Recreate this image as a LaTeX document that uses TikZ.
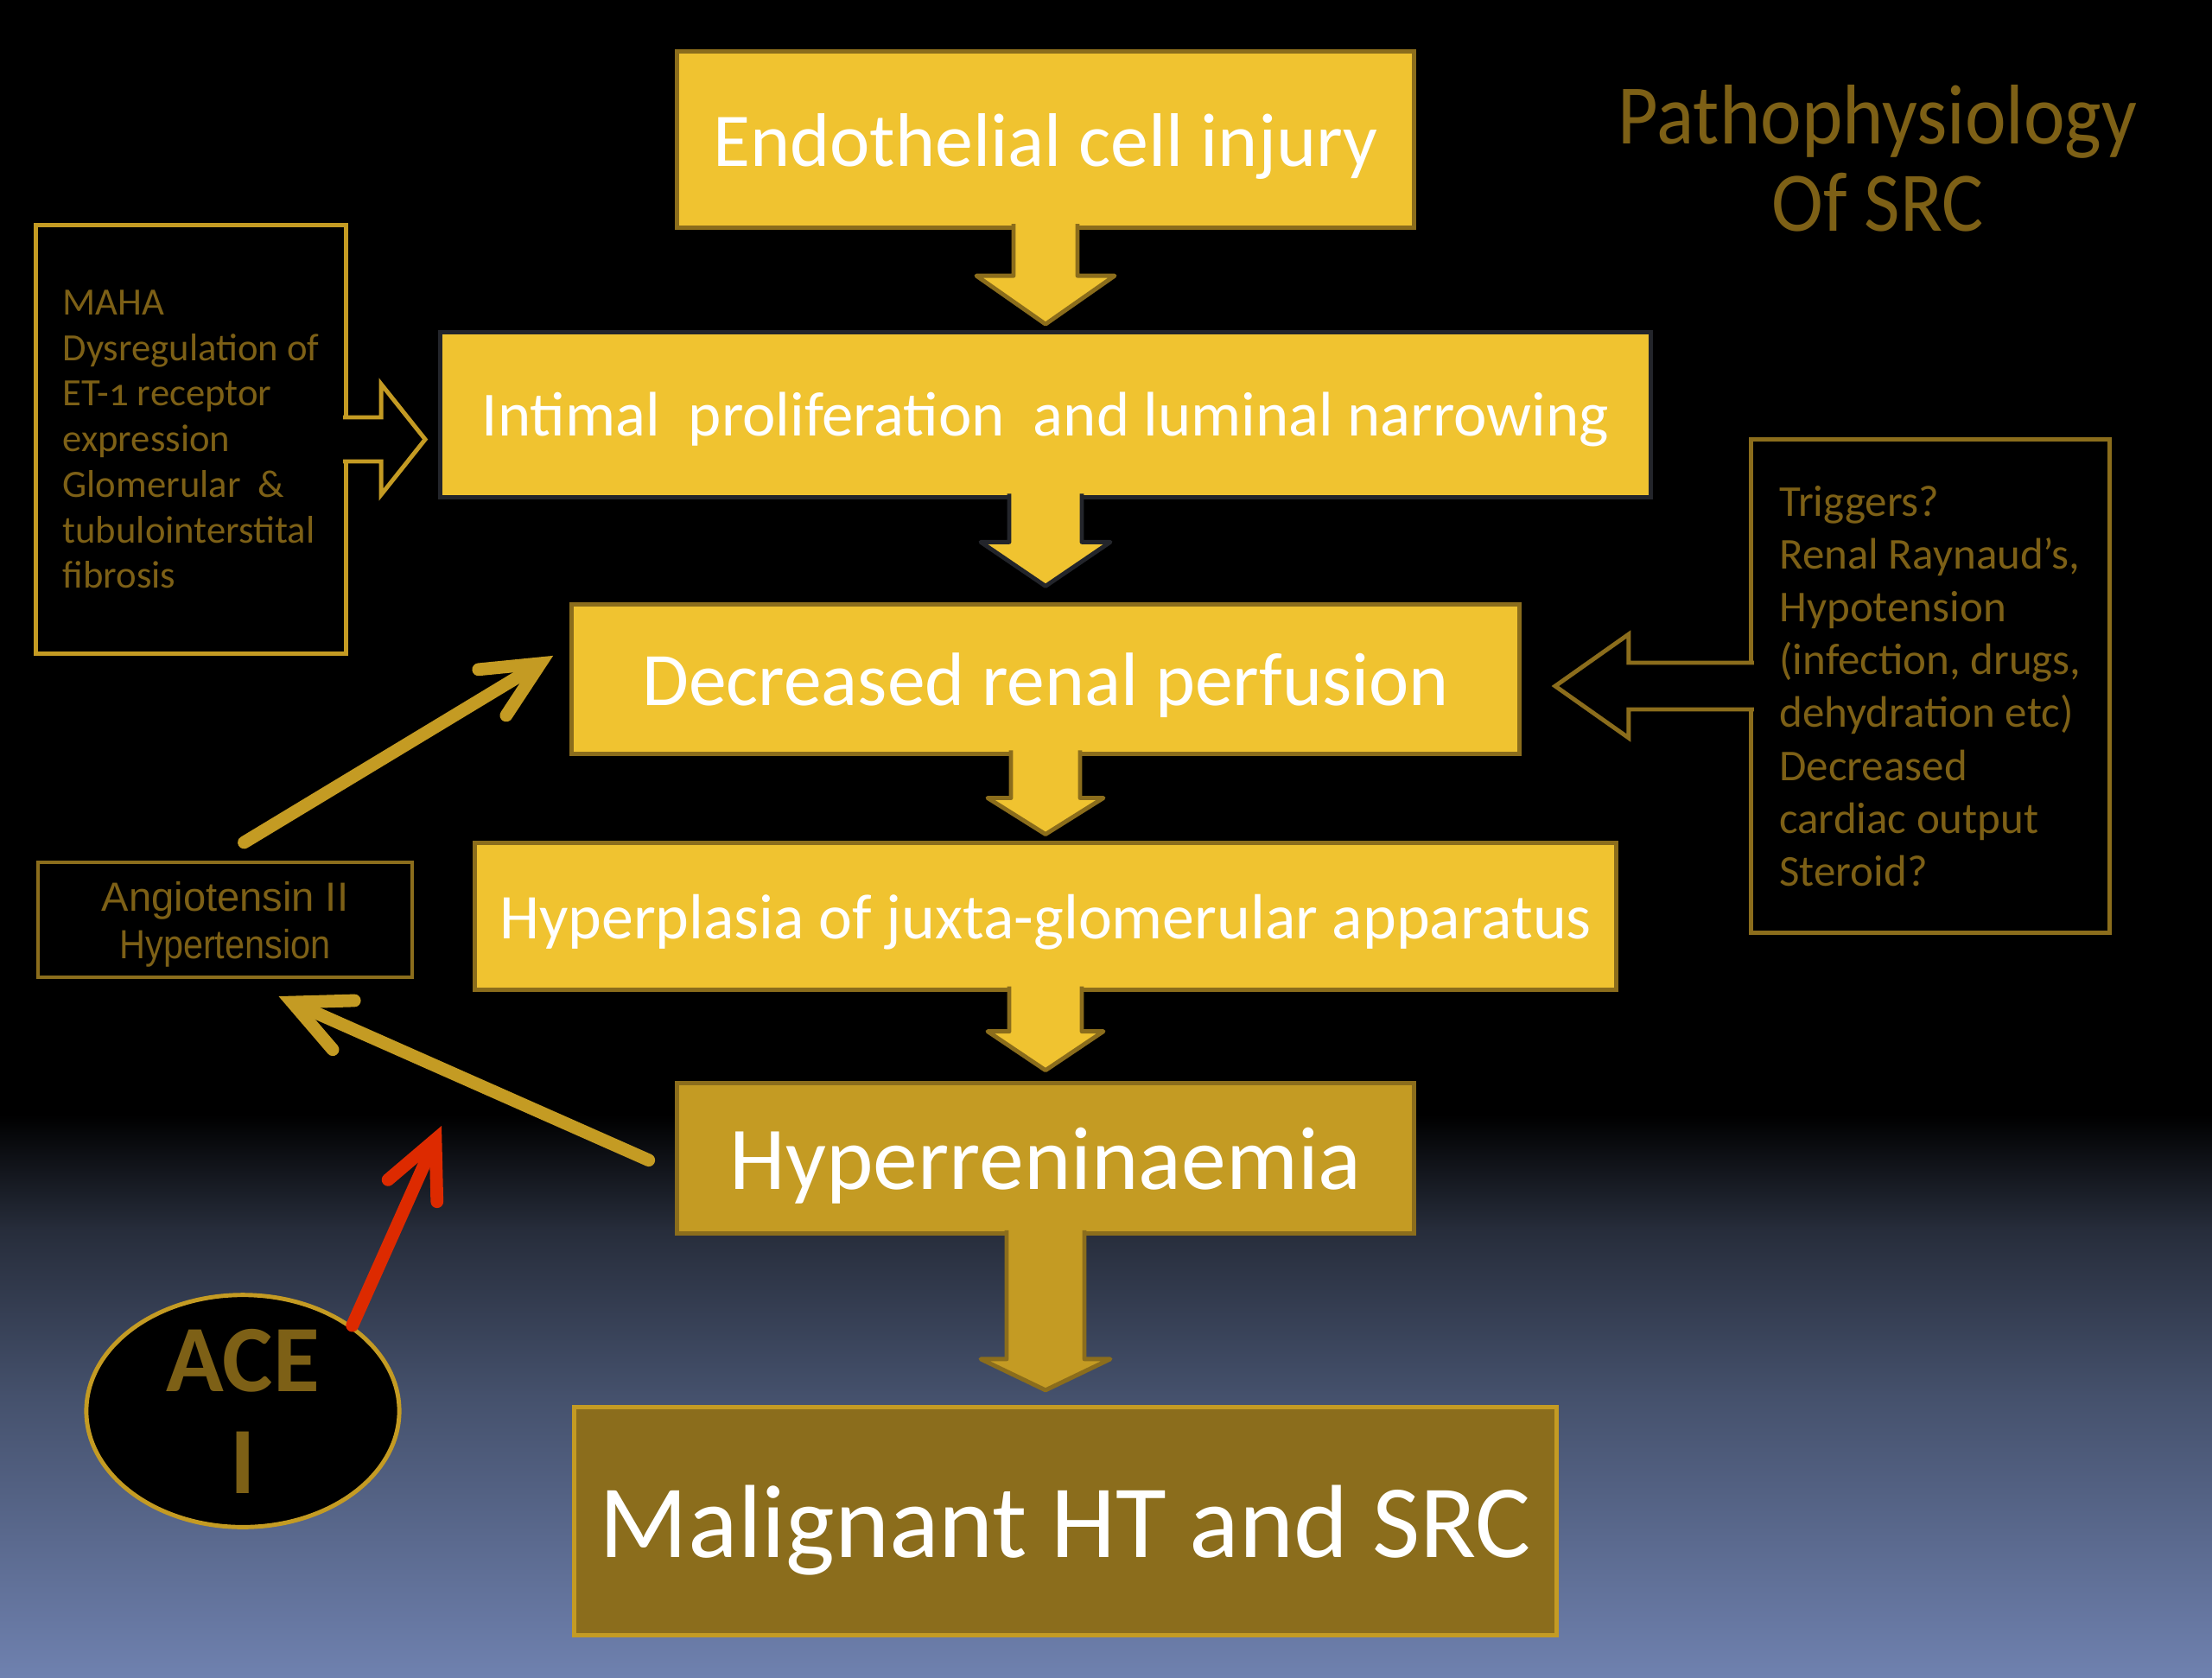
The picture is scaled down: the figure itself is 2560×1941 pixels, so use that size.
\documentclass[tikz,border=0pt]{standalone}
\usepackage{fontspec}
\setmainfont{Carlito}
\newfontfamily\titlefont[FakeStretch=0.92]{Carlito}
\newfontfamily\angfont{Liberation Sans}
\newfontfamily\angnarrow[FakeStretch=0.88]{Liberation Sans}
\usetikzlibrary{arrows.meta, shapes.geometric, positioning, calc}

\definecolor{boxyellow}{HTML}{F0C330}
\definecolor{gold}{HTML}{C49B23}
\definecolor{darkgold}{HTML}{8B6D1C}
\definecolor{textgold}{HTML}{7D6016}
\definecolor{darkedge}{HTML}{23252B}
\definecolor{acered}{HTML}{DD2A00}
\definecolor{bgA}{HTML}{262C3A}
\definecolor{bgB}{HTML}{44506B}
\definecolor{bgC}{HTML}{6F81AF}

\begin{document}
\begin{tikzpicture}[x=0.01cm, y=-0.01cm,
  box/.style={draw=darkgold, line width=1.4pt, fill=boxyellow, text=white,
              inner sep=0pt, outer sep=0pt, align=center, text depth=0pt},
  note/.style={draw=gold, line width=1.4pt, fill=black, text=textgold,
               inner sep=0pt, outer sep=0pt, align=left},
  arr/.style={-{Straight Barb[length=0.65cm, width=0.62cm, line cap=round]},
              line width=4.2pt, line cap=round, gold},
  node distance=1.2cm
]
  \useasboundingbox (0,0) rectangle (2560,1941);
  \fill[black] (0,0) rectangle (2560,1292);
  \shade[top color=black, bottom color=bgA] (0,1290) rectangle (2560,1422);
  \shade[top color=bgA, bottom color=bgB] (0,1420) rectangle (2560,1612);
  \shade[top color=bgB, bottom color=bgC] (0,1610) rectangle (2560,1941);

  \node[box, minimum width=8.52cm, minimum height=2.03cm,
        font=\fontsize{25}{30}\selectfont] (endo) at (1210,161.5) {Endothelial cell injury};
  \node[box, draw=darkedge, minimum width=14.01cm, minimum height=1.91cm,
        font=\fontsize{20.7}{25}\selectfont, below=1.21cm of endo] (intim)
        {Intimal~ proliferation~ and luminal narrowing};
  \node[box, minimum width=10.97cm, minimum height=1.73cm,
        font=\fontsize{24.9}{30}\selectfont, below=1.24cm of intim] (decr) {Decreased renal perfusion};
  \node[box, minimum width=13.21cm, minimum height=1.70cm,
        font=\fontsize{21}{25}\selectfont, below=1.03cm of decr] (hypl)
        {Hyperplasia of juxta-glomerular apparatus};
  \node[box, fill=gold, minimum width=8.52cm, minimum height=1.74cm,
        font=\fontsize{29.5}{35}\selectfont, below=1.08cm of hypl] (hyrn) {Hyperreninaemia};
  \node[box, draw=gold, fill=darkgold, minimum width=11.37cm, minimum height=2.63cm,
        font=\fontsize{34.2}{40}\selectfont, below=2.01cm of hyrn, xshift=0.23cm] (malg)
        {Malignant HT and SRC};

  \foreach \a/\b/\f/\e/\s/\h/\l/\g in {endo/intim/boxyellow/darkgold/37/80/56/9,
      intim/decr/boxyellow/darkedge/42/75/51/21,
      decr/hypl/boxyellow/darkgold/40/67/42/10,
      hypl/hyrn/boxyellow/darkgold/42/67/45/15,
      hyrn/malg/gold/darkgold/45/75/36/20}{
    \coordinate (t) at (\a.south |- \b.north);
    \filldraw[fill=\f, draw=\e, line width=1.4pt, line join=round]
      ($(\a.south)+(-\s,-4)$) -- ($(t)+(-\s,-\g-\l)$) -- ($(t)+(-\h,-\g-\l)$)
      -- ($(t)+(0,-\g)$) -- ($(t)+(\h,-\g-\l)$) -- ($(t)+(\s,-\g-\l)$)
      -- ($(\a.south)+(\s,-4)$);
  }

  \node[note, minimum width=3.58cm, minimum height=4.95cm,
        font=\fontsize{12.7}{15}\selectfont] (maha) at (221,508.5)
        {MAHA\\Dysregulation of\\ET-{\addfontfeatures{Numbers=OldStyle}1} receptor\\expression\\Glomerular~ \&\\tubulointerstital\\fibrosis};
  \filldraw[fill=black, draw=gold, line width=1.4pt] ($(maha.east)+(-3,-25.5)$) -- ++(44,0)
    -- ++(0,-38.5) -- ++(51,64) -- ++(-51,64) -- ++(0,-38.5) -- ++(-44,0);

  \node[note, draw=darkgold, minimum width=4.14cm, minimum height=5.70cm,
        font=\fontsize{14.5}{17.4}\selectfont] (trig) at (2234,794)
        {Triggers?\\Renal Raynaud’s,\\Hypotension\\(infection, drugs,\\dehydration etc)\\Decreased\\cardiac output\\Steroid?};
  \filldraw[fill=black, draw=darkgold, line width=1.4pt] ($(trig.west)+(3,-27)$) -- ++(-145,0)
    -- ++(0,-33) -- ++(-85,60) -- ++(85,60) -- ++(0,-33) -- ++(145,0);

  \node[draw=darkgold, line width=1.1pt, text=textgold, minimum width=4.33cm,
        minimum height=1.33cm, inner sep=0pt, outer sep=0pt, align=center, text depth=0pt,
        font=\fontsize{13.4}{15.6}\selectfont] (ang) at (260.5,1064.5)
        {{\angfont Angiotensin II}\\{\angnarrow Hypertension}};

  \node[text=textgold, align=center, inner sep=0pt, anchor=north,
        font=\titlefont\fontsize{27.9}{28.6}\selectfont] (title) at (2173,98)
        {Pathophysiology\\Of SRC};

  \node[ellipse, draw=gold, fill=black, line width=1.4pt, minimum width=3.62cm,
        minimum height=2.54cm, inner sep=0pt, text=textgold, align=center,
        font=\bfseries\fontsize{31.3}{33.5}\selectfont] (ace) at (281,1633) {ACE\\I};

  \coordinate (block) at (511,1303);
  \draw[arr] ($(ang.north)+(22,-23)$) -- ($(decr.west)+(-21,-27)$);
  \draw[arr] ($(hyrn.west)+(-33,2)$) -- ($(ang.south)+(62,22)$);
  \draw[arr, acered] (ace.38) -- (block);
\end{tikzpicture}
\end{document}
